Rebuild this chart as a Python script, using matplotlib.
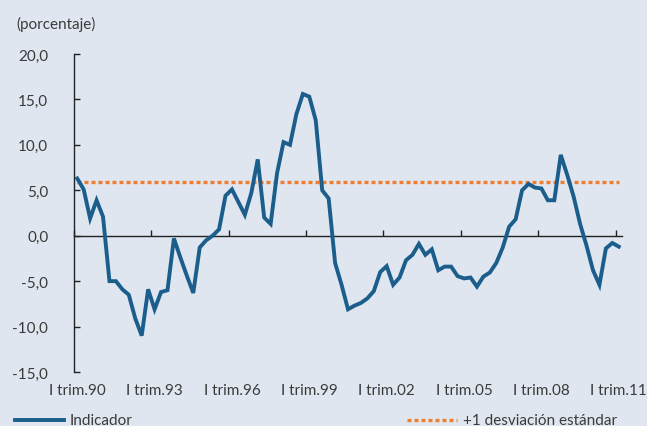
import matplotlib
matplotlib.use("Agg")
import matplotlib.pyplot as plt
from matplotlib.lines import Line2D

# Quarterly indicator, I trim. 1990 - I trim. 2011 (percent)
indicador = [
    6.3, 5.1, 1.9, 3.9, 2.1, -5.0, -5.0, -5.9, -6.5, -9.1,
    -11.0, -5.9, -8.1, -6.2, -6.0, -0.3, -2.4, -4.4, -6.3, -1.3,
    -0.5, 0.0, 0.7, 4.4, 5.1, 3.7, 2.3, 4.7, 8.4, 2.0,
    1.3, 6.9, 10.3, 10.0, 13.4, 15.6, 15.3, 12.7, 5.0, 4.1,
    -3.0, -5.4, -8.1, -7.7, -7.4, -6.9, -6.1, -4.0, -3.35, -5.4,
    -4.6, -2.7, -2.1, -0.9, -2.1, -1.5, -3.8, -3.4, -3.4, -4.45,
    -4.7, -4.6, -5.6, -4.5, -4.05, -3.0, -1.3, 1.0, 1.8, 5.0,
    5.7, 5.3, 5.2, 3.9, 3.9, 8.9, 6.7, 4.3, 1.3, -1.1,
    -3.8, -5.4, -1.4, -0.8, -1.2,
]
desviacion = 5.9
etiquetas = ["I trim.90", "I trim.93", "I trim.96", "I trim.99",
             "I trim.02", "I trim.05", "I trim.08", "I trim.11"]
yticks = [20, 15, 10, 5, 0, -5, -10, -15]

BG = "#e0e6f0"
AZUL = "#1b5e8c"
NARANJA = "#ee7f32"
TEXTO = "#3a3a3a"
FS = 11

plt.rcParams["font.family"] = ["Lato", "DejaVu Sans"]

fig = plt.figure(figsize=(6.47, 4.27), dpi=100, facecolor=BG)
ax = fig.add_axes([74 / 647, 1 - 373 / 427, 548 / 647, 318 / 427])
ax.set_facecolor(BG)

n = len(indicador)
x = list(range(n))
ax.plot(x, indicador, color=AZUL, lw=2.8, solid_joinstyle="miter", zorder=3)
ax.plot([0, n - 1], [desviacion, desviacion], color=NARANJA, lw=2.4,
        linestyle=(0, (1.2, 0.9)), dash_capstyle="butt", zorder=2)

ax.set_xlim(-0.5, n - 0.5)
ax.set_ylim(-15, 20)

# y axis
for s in ["top", "right"]:
    ax.spines[s].set_visible(False)
ax.spines["left"].set_color("#222222")
ax.spines["left"].set_linewidth(1.0)
ax.spines["bottom"].set_position(("data", 0))
ax.spines["bottom"].set_color("#222222")
ax.spines["bottom"].set_linewidth(1.0)
ax.set_yticks(yticks)
ax.set_yticklabels([f"{v:.1f}".replace(".", ",") for v in yticks])
ax.tick_params(axis="y", direction="in", length=4, width=1, color="#222222",
               labelsize=FS, labelcolor=TEXTO, pad=18.5)

# x axis on the zero line, labels below the plot
xt = [i * 12 - 0.5 for i in range(len(etiquetas))]
ax.set_xticks(xt)
ax.set_xticklabels([])
ax.tick_params(axis="x", direction="in", length=4, width=1, color="#222222")
for i, lab in enumerate(etiquetas):
    ax.text(i * 12, -0.057, lab, transform=ax.get_xaxis_transform(),
            ha="center", va="center", fontsize=FS, color=TEXTO)

fig.text(16 / 647, 1 - 24 / 427, "(porcentaje)", ha="left", va="center",
         fontsize=FS, color=TEXTO)

# legend
ly = 1 - 421 / 427
fig.add_artist(Line2D([15 / 647, 64 / 647], [ly, ly], color=AZUL, lw=2.8))
fig.text(70 / 647, ly, "Indicador", ha="left", va="center", fontsize=FS,
         color=TEXTO)
fig.add_artist(Line2D([407 / 647, 457 / 647], [ly, ly], color=NARANJA, lw=2.4,
                      linestyle=(0, (1.2, 0.9)), dash_capstyle="butt"))
fig.text(463 / 647, ly, "+1 desviación estándar", ha="left", va="center",
         fontsize=FS, color=TEXTO)

fig.savefig("out.png", dpi=100, facecolor=BG)
